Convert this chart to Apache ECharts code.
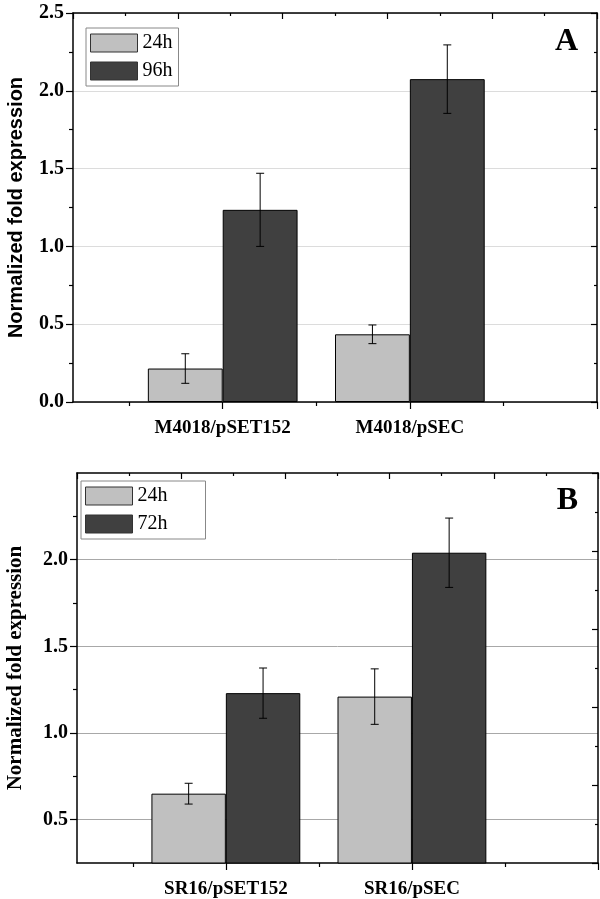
<!DOCTYPE html>
<html>
<head>
<meta charset="utf-8">
<script src="https://cdn.jsdelivr.net/npm/echarts@6/dist/echarts.min.js"></script>
<style>
html,body{margin:0;padding:0;background:#fff;}
#c{width:600px;height:899px;}
</style>
</head>
<body>
<div id="c"></div>
<script>
// ---- data ----
const groupX = [1, 2];
const catTop = ['M4018/pSET152', 'M4018/pSEC'];
const catBot = ['SR16/pSET152', 'SR16/pSEC'];
const legendTop = ['24h', '96h'];
const legendBot = ['24h', '72h'];
const top24 = [0.215, 0.435];
const top24Err = [0.095, 0.06];
const top96 = [1.235, 2.075];
const top96Err = [0.235, 0.22];
const bot24 = [0.65, 1.21];
const bot24Err = [0.06, 0.16];
const bot72 = [1.23, 2.04];
const bot72Err = [0.145, 0.20];
const yLabelsBot = [0.5, 1, 1.5, 2];
const yMinorBot = [0.75, 1.25, 1.75, 2.25];
const xMajor = [1, 2, 3];
const xMinor = [0.5, 1.5, 2.5];

// ---- layout ----
const SERIF = 'Liberation Serif';
const SANS = 'Liberation Sans';
const X_MIN = 0.2, X_MAX = 3;
const BAR_UNITS = 0.4;
const grids = [
  {left: 73, top: 13, width: 524, height: 389},
  {left: 77, top: 473, width: 521, height: 390}
];
const C24 = '#c0c0c0', CLATE = '#404040';
const TICK_FONT = 20, CAT_FONT = 19;

function barW(g) { return grids[g].width / (X_MAX - X_MIN) * BAR_UNITS; }

function xAxesFor(g, cats) {
  const lineStyle = {color: '#000', width: 1.5};
  return [
    {gridIndex: g, type: 'value', position: 'bottom', min: X_MIN, max: X_MAX,
     axisLine: {show: true, onZero: false, lineStyle},
     axisTick: {show: true, customValues: xMajor, length: 7, lineStyle: {color: '#000', width: 1.2}},
     axisLabel: {show: true, customValues: groupX, margin: 17,
       formatter: v => cats[Math.round(v) - 1] || '',
       fontFamily: SERIF, fontWeight: 'bold', fontSize: CAT_FONT, color: '#000'},
     splitLine: {show: false}},
    {gridIndex: g, type: 'value', position: 'bottom', min: X_MIN, max: X_MAX,
     axisLine: {show: false},
     axisTick: {show: true, customValues: xMinor, length: 4, lineStyle: {color: '#000', width: 1.2}},
     axisLabel: {show: false}, splitLine: {show: false}},
    {gridIndex: g, type: 'value', position: 'top', min: 0, max: 10, interval: 2,
     axisLine: {show: true, onZero: false, lineStyle},
     axisTick: {show: true, inside: true, length: 6, lineStyle: {color: '#000', width: 1.2}},
     minorTick: {show: true, splitNumber: 2, length: 3, lineStyle: {color: '#000', width: 1.2}},
     axisLabel: {show: false}, splitLine: {show: false}}
  ];
}

function rightAxis(g) {
  return {gridIndex: g, type: 'value', position: 'right', min: 0, max: 10, interval: 2,
    axisLine: {show: true, onZero: false, lineStyle: {color: '#000', width: 1.5}},
    axisTick: {show: true, inside: true, length: 6, lineStyle: {color: '#000', width: 1.2}},
    minorTick: {show: true, splitNumber: 2, length: 3, lineStyle: {color: '#000', width: 1.2}},
    axisLabel: {show: false}, splitLine: {show: false}};
}

const yAxes = [
  // panel A left (index 0)
  {gridIndex: 0, type: 'value', position: 'left', min: 0, max: 2.5, interval: 0.5,
   name: 'Normalized fold expression', nameLocation: 'middle', nameGap: 47, nameRotate: 90,
   nameTextStyle: {fontFamily: SANS, fontWeight: 'bold', fontSize: 20, color: '#000'},
   axisLine: {show: true, onZero: false, lineStyle: {color: '#000', width: 1.5}},
   axisTick: {show: true, length: 7, lineStyle: {color: '#000', width: 1.2}},
   minorTick: {show: true, splitNumber: 2, length: 4, lineStyle: {color: '#000', width: 1.2}},
   axisLabel: {margin: 9, fontFamily: SERIF, fontWeight: 'bold', fontSize: TICK_FONT, color: '#000',
     formatter: v => v.toFixed(1)},
   splitLine: {show: true, lineStyle: {color: '#dcdcdc', width: 1}}},
  rightAxis(0),
  // panel B left (index 2)
  {gridIndex: 1, type: 'value', position: 'left', min: 0.25, max: 2.5, splitNumber: 5,
   name: 'Normalized fold expression', nameLocation: 'middle', nameGap: 51, nameRotate: 90,
   nameTextStyle: {fontFamily: SERIF, fontWeight: 'bold', fontSize: 21, color: '#000'},
   axisLine: {show: true, onZero: false, lineStyle: {color: '#000', width: 1.5}},
   axisTick: {show: true, customValues: yLabelsBot, length: 7, lineStyle: {color: '#000', width: 1.2}},
   axisLabel: {customValues: yLabelsBot, margin: 9, fontFamily: SERIF, fontWeight: 'bold', fontSize: TICK_FONT, color: '#000',
     formatter: v => v.toFixed(1)},
   splitLine: {show: true, lineStyle: {color: '#a8a8a8', width: 1}}},
  {gridIndex: 1, type: 'value', position: 'left', min: 0.25, max: 2.5,
   axisLine: {show: false},
   axisTick: {show: true, customValues: yMinorBot, length: 4, lineStyle: {color: '#000', width: 1.2}},
   axisLabel: {show: false}, splitLine: {show: false}},
  rightAxis(1)
];

function barSeries(name, xAxisIndex, yAxisIndex, vals, color, g) {
  return {name, type: 'bar', xAxisIndex, yAxisIndex,
    data: groupX.map((x, i) => [x, vals[i]]),
    barWidth: barW(g), barGap: '0%',
    itemStyle: {color, borderColor: '#000', borderWidth: 1},
    emphasis: {disabled: true}, z: 2};
}

function errSeries(xAxisIndex, yAxisIndex, vals1, err1, vals2, err2) {
  const data = [];
  groupX.forEach((x, i) => {
    data.push([x - BAR_UNITS / 2, vals1[i], err1[i]]);
    data.push([x + BAR_UNITS / 2, vals2[i], err2[i]]);
  });
  return {type: 'custom', xAxisIndex, yAxisIndex, data, z: 5, silent: true,
    renderItem: (params, api) => {
      const x = api.value(0), y = api.value(1), e = api.value(2);
      const hi = api.coord([x, y + e]);
      const lo = api.coord([x, y - e]);
      const cap = 4;
      const st = {stroke: '#000', lineWidth: 1};
      return {type: 'group', children: [
        {type: 'line', shape: {x1: hi[0], y1: hi[1], x2: lo[0], y2: lo[1]}, style: st},
        {type: 'line', shape: {x1: hi[0] - cap, y1: hi[1], x2: hi[0] + cap, y2: hi[1]}, style: st},
        {type: 'line', shape: {x1: lo[0] - cap, y1: lo[1], x2: lo[0] + cap, y2: lo[1]}, style: st}
      ]};
    }};
}

function legendFor(names, left, top, padding) {
  return {data: names, left, top, padding,
    orient: 'vertical', icon: 'rect', itemWidth: 47, itemHeight: 18, itemGap: 8,
    borderColor: '#888', borderWidth: 1, backgroundColor: '#fff',
    itemStyle: {borderWidth: 1, borderColor: '#333'},
    formatter: '{s|{name}}',
    textStyle: {fontFamily: SERIF, fontSize: 20, color: '#000',
      rich: {s: {fontFamily: SERIF, fontSize: 20, color: '#000'}}},
    selectedMode: false};
}

const option = {
  backgroundColor: '#fff',
  animation: false,
  textStyle: {fontFamily: SERIF},
  grid: grids.map(g => Object.assign({containLabel: false, outerBoundsMode: 'none'}, g)),
  legend: [
    legendFor(legendTop, 86, 28, [5, 6, 5, 4]),
    legendFor(legendBot, 81, 481, [5, 38, 5, 4])
  ],
  xAxis: xAxesFor(0, catTop).concat(xAxesFor(1, catBot)),
  yAxis: yAxes,
  series: [
    barSeries(legendTop[0], 0, 0, top24, C24, 0),
    barSeries(legendTop[1], 0, 0, top96, CLATE, 0),
    errSeries(0, 0, top24, top24Err, top96, top96Err),
    barSeries(legendBot[0], 3, 2, bot24, C24, 1),
    barSeries(legendBot[1], 3, 2, bot72, CLATE, 1),
    errSeries(3, 2, bot24, bot24Err, bot72, bot72Err)
  ],
  graphic: [
    {type: 'text', right: 22, top: 26, style: {text: 'A', fontFamily: SERIF, fontWeight: 'bold', fontSize: 32, fill: '#000'}},
    {type: 'text', right: 22, top: 485, style: {text: 'B', fontFamily: SERIF, fontWeight: 'bold', fontSize: 32, fill: '#000'}}
  ]
};

const chart = echarts.init(document.getElementById('c'), null, {renderer: 'canvas'});
chart.setOption(option);
</script>
</body>
</html>
